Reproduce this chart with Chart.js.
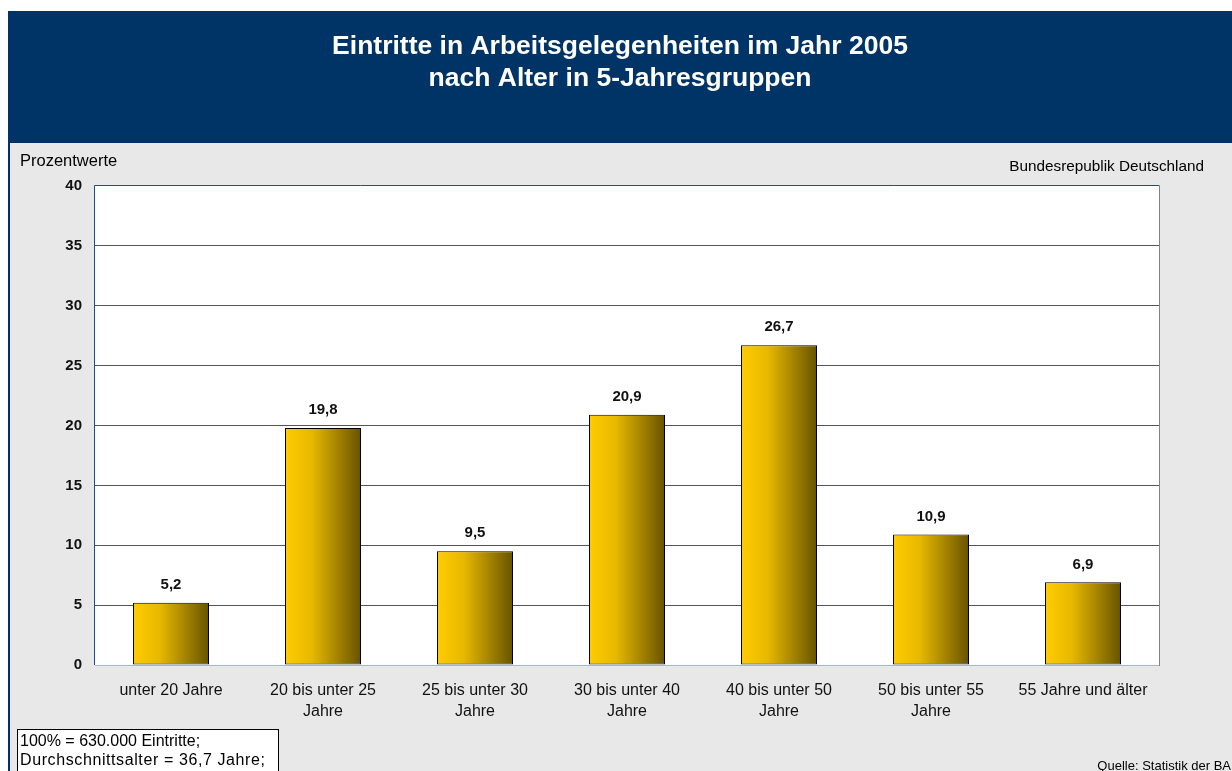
<!DOCTYPE html>
<html>
<head>
<meta charset="utf-8">
<script src="https://cdn.jsdelivr.net/npm/chart.js@4.4.0/dist/chart.umd.min.js"></script>
<style>
html,body{margin:0;padding:0;background:#fff;}
canvas{display:block;}
</style>
</head>
<body>
<canvas id="c" width="1232" height="771"></canvas>
<script>
const categories = [
  "unter 20 Jahre",
  ["20 bis unter 25", "Jahre"],
  ["25 bis unter 30", "Jahre"],
  ["30 bis unter 40", "Jahre"],
  ["40 bis unter 50", "Jahre"],
  ["50 bis unter 55", "Jahre"],
  "55 Jahre und älter"
];
const values = [5.2, 19.8, 9.5, 20.9, 26.7, 10.9, 6.9];
const yTicks = [0, 5, 10, 15, 20, 25, 30, 35, 40];
const titleLines = ["Eintritte in Arbeitsgelegenheiten im Jahr 2005", "nach Alter in 5-Jahresgruppen"];
const yUnit = "Prozentwerte";
const region = "Bundesrepublik Deutschland";
const source = "Quelle: Statistik der BA";
const noteLines = ["100% = 630.000 Eintritte;", "Durchschnittsalter = 36,7 Jahre;"];

const FONT = "'Liberation Sans', Arial, sans-serif";

const decor = {
  id: 'decor',
  beforeDraw(chart) {
    const ctx = chart.ctx;
    const W = chart.width, H = chart.height;
    ctx.save();
    ctx.fillStyle = '#ffffff';
    ctx.fillRect(0, 0, W, H);
    ctx.fillStyle = '#e8e8e8';
    ctx.fillRect(10, 143, W - 10, H - 143);
    ctx.fillStyle = '#003366';
    ctx.fillRect(8, 11, W - 8, 132);
    ctx.fillRect(8, 143, 2, H - 143);
    ctx.fillStyle = '#ffffff';
    ctx.font = "bold 26.5px " + FONT;
    ctx.textAlign = 'center';
    ctx.textBaseline = 'middle';
    ctx.fillText(titleLines[0], 620, 47);
    ctx.fillText(titleLines[1], 620, 79);
    ctx.fillStyle = '#000000';
    ctx.font = "16.5px " + FONT;
    ctx.textAlign = 'left';
    ctx.fillText(yUnit, 20, 161);
    ctx.font = "15.3px " + FONT;
    ctx.textAlign = 'right';
    ctx.fillText(region, 1204, 167);
    ctx.font = "13px " + FONT;
    ctx.fillText(source, 1231, 766);
    // note box
    ctx.fillStyle = '#ffffff';
    ctx.fillRect(17, 729, 261, 50);
    ctx.strokeStyle = '#000000';
    ctx.lineWidth = 1;
    ctx.strokeRect(17.5, 729.5, 261, 50);
    ctx.fillStyle = '#000000';
    ctx.textAlign = 'left';
    ctx.font = "16px " + FONT;
    ctx.fillText(noteLines[0], 20, 742);
    if ('letterSpacing' in ctx) ctx.letterSpacing = '0.6px';
    ctx.fillText(noteLines[1], 20, 761);
    if ('letterSpacing' in ctx) ctx.letterSpacing = '0px';
    // plot area
    const a = chart.chartArea;
    ctx.fillStyle = '#ffffff';
    ctx.fillRect(a.left, a.top, a.right - a.left, a.bottom - a.top);
    ctx.restore();
  },
  afterDatasetsDraw(chart) {
    const ctx = chart.ctx;
    const a = chart.chartArea;
    ctx.save();
    ctx.lineWidth = 1;
    ctx.strokeStyle = '#a9b7cc';
    ctx.beginPath();
    ctx.moveTo(a.left, a.bottom + 0.5);
    ctx.lineTo(a.right, a.bottom + 0.5);
    ctx.stroke();
    ctx.strokeStyle = '#2b4a78';
    ctx.beginPath();
    ctx.moveTo(a.left - 0.5, a.bottom);
    ctx.lineTo(a.left - 0.5, a.top - 0.5);
    ctx.lineTo(a.right + 0.5, a.top - 0.5);
    ctx.stroke();
    ctx.strokeStyle = '#6f86a8';
    ctx.beginPath();
    ctx.moveTo(a.right + 0.5, a.top);
    ctx.lineTo(a.right + 0.5, a.bottom + 1);
    ctx.stroke();
    // value labels
    const meta = chart.getDatasetMeta(0);
    ctx.fillStyle = '#111111';
    ctx.font = "bold 15px " + FONT;
    ctx.textAlign = 'center';
    ctx.textBaseline = 'middle';
    meta.data.forEach((bar, i) => {
      ctx.fillText(values[i].toFixed(1).replace('.', ','), bar.x, bar.y - 18);
    });
    ctx.restore();
  }
};

new Chart(document.getElementById('c'), {
  type: 'bar',
  data: {
    labels: categories,
    datasets: [{
      data: values,
      borderColor: '#000000',
      borderWidth: 1,
      borderSkipped: false,
      categoryPercentage: 1.0,
      barPercentage: 0.5,
      backgroundColor(context) {
        const chart = context.chart;
        const xs = chart.scales.x;
        if (!chart.chartArea || !xs) return '#ffcc00';
        const cx = xs.getPixelForValue(context.dataIndex);
        const half = (xs.width / categories.length) * 0.25;
        const g = chart.ctx.createLinearGradient(cx - half, 0, cx + half, 0);
        g.addColorStop(0, '#ffcc00');
        g.addColorStop(0.35, '#e8b800');
        g.addColorStop(1, '#675300');
        return g;
      }
    }]
  },
  options: {
    responsive: false,
    animation: false,
    devicePixelRatio: 1,
    layout: { padding: { left: 0, right: 73, top: 186, bottom: 0 } },
    plugins: { legend: { display: false }, tooltip: { enabled: false } },
    scales: {
      x: {
        grid: { display: false, drawTicks: false },
        border: { display: false },
        ticks: {
          color: '#111111',
          font: { family: FONT, size: 16, lineHeight: 1.3 },
          padding: 15,
          maxRotation: 0,
          autoSkip: false
        },
        afterFit(scale) { scale.height = 106; }
      },
      y: {
        min: 0, max: 40,
        afterBuildTicks(scale) { scale.ticks = yTicks.map(v => ({ value: v })); },
        grid: {
          drawTicks: false,
          color(ctx) { return (ctx.tick && (ctx.tick.value === 0 || ctx.tick.value === 40)) ? 'rgba(0,0,0,0)' : '#555555'; },
          lineWidth: 1
        },
        border: { display: false },
        ticks: {
          color: '#111111',
          font: { family: FONT, size: 15, weight: 'bold' },
          padding: 13
        },
        afterFit(scale) { scale.width = 95; }
      }
    }
  },
  plugins: [decor]
});
</script>
</body>
</html>
